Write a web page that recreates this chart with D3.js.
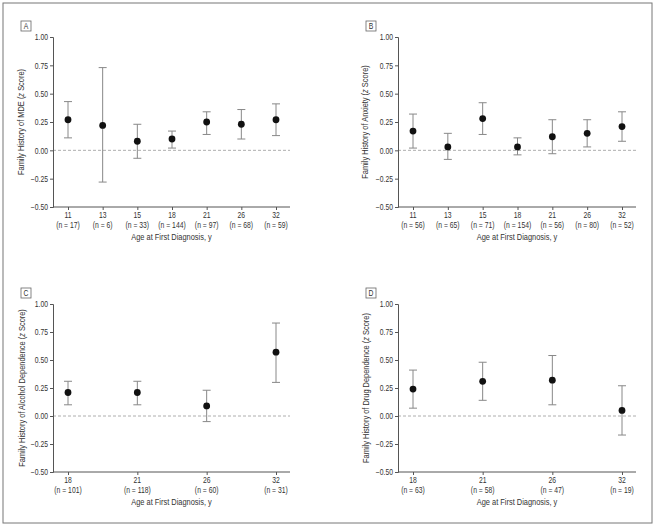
<!DOCTYPE html>
<html>
<head>
<meta charset="utf-8">
<script src="https://cdn.jsdelivr.net/npm/d3@7"></script>
<style>
  body { margin: 0; background: #fff; }
  svg text { font-family: "Liberation Sans", Arial, sans-serif; fill: #333; }
</style>
</head>
<body>
<div id="chart"></div>
<script>
// values: mean z score with lower / upper 95% CI
const agesA = ["11", "13", "15", "18", "21", "26", "32"];
const nA = [17, 6, 33, 144, 97, 68, 59];
const meanA = [0.27, 0.22, 0.08, 0.10, 0.25, 0.23, 0.27];
const lowA = [0.11, -0.28, -0.07, 0.02, 0.14, 0.10, 0.13];
const highA = [0.43, 0.73, 0.23, 0.17, 0.34, 0.36, 0.41];

const agesB = ["11", "13", "15", "18", "21", "26", "32"];
const nB = [56, 65, 71, 154, 56, 80, 52];
const meanB = [0.17, 0.03, 0.28, 0.03, 0.12, 0.15, 0.21];
const lowB = [0.02, -0.08, 0.14, -0.04, -0.03, 0.03, 0.08];
const highB = [0.32, 0.15, 0.42, 0.11, 0.27, 0.27, 0.34];

const agesC = ["18", "21", "26", "32"];
const nC = [101, 118, 60, 31];
const meanC = [0.21, 0.21, 0.09, 0.57];
const lowC = [0.10, 0.10, -0.05, 0.30];
const highC = [0.31, 0.31, 0.23, 0.83];

const agesD = ["18", "21", "26", "32"];
const nD = [63, 58, 47, 19];
const meanD = [0.24, 0.31, 0.32, 0.05];
const lowD = [0.07, 0.14, 0.10, -0.17];
const highD = [0.41, 0.48, 0.54, 0.27];

const yTicks = [-0.5, -0.25, 0, 0.25, 0.5, 0.75, 1.0];

const W = 656, H = 528;
const NARROW = 0.8; // horizontal squeeze to mimic the condensed journal font

const svg = d3.select("#chart").append("svg")
  .attr("width", W).attr("height", H);

// outer frame
svg.append("rect")
  .attr("x", 3).attr("y", 3).attr("width", 649).attr("height", 520)
  .attr("fill", "none").attr("stroke", "#777").attr("stroke-width", 1);

const panels = [
  { letter: "A", title: "Family History of MDE", ages: agesA, n: nA, mean: meanA, low: lowA, high: highA, x0: 53, x1: 290, y0: 37, y1: 207, titleX: 24 },
  { letter: "B", title: "Family History of Anxiety", ages: agesB, n: nB, mean: meanB, low: lowB, high: highB, x0: 398, x1: 636, y0: 37, y1: 207, titleX: 368 },
  { letter: "C", title: "Family History of Alcohol Dependence", ages: agesC, n: nC, mean: meanC, low: lowC, high: highC, x0: 53, x1: 290, y0: 304, y1: 472, titleX: 25 },
  { letter: "D", title: "Family History of Drug Dependence", ages: agesD, n: nD, mean: meanD, low: lowD, high: highD, x0: 398, x1: 636, y0: 304, y1: 472, titleX: 369 }
];

panels.forEach(p => drawPanel(p));

function label(g, x, y, txt, size) {
  return g.append("text")
    .attr("transform", "translate(" + x + "," + y + ") scale(" + NARROW + ",1)")
    .attr("text-anchor", "middle").style("font-size", size + "px")
    .text(txt);
}

function drawPanel(p) {
  const g = svg.append("g");

  const y = d3.scaleLinear().domain([-0.5, 1.0]).range([p.y1, p.y0]);
  const x = d3.scalePoint().domain(p.ages).range([p.x0 + 15, p.x1 - 14]);

  // zero reference line
  g.append("line")
    .attr("x1", p.x0).attr("x2", p.x1)
    .attr("y1", y(0)).attr("y2", y(0))
    .attr("stroke", "#999").attr("stroke-width", 0.8)
    .attr("stroke-dasharray", "3,2");

  // y axis
  const yAxis = g.append("g")
    .attr("transform", "translate(" + p.x0 + ",0)")
    .call(d3.axisLeft(y).tickValues(yTicks).tickSize(3).tickPadding(2)
      .tickFormat(d => d3.format(".2f")(d).replace("-", "\u2013")));
  yAxis.select(".domain").attr("stroke", "#555");
  yAxis.selectAll(".tick line").attr("stroke", "#555");
  yAxis.selectAll("text")
    .attr("x", -5 / NARROW)
    .attr("transform", "scale(" + NARROW + ",1)")
    .style("font-size", "8.5px").attr("fill", "#333");

  // x axis line (drawn across the whole panel width)
  g.append("line")
    .attr("x1", p.x0).attr("x2", p.x1)
    .attr("y1", p.y1).attr("y2", p.y1)
    .attr("stroke", "#555");

  const xAxis = g.append("g")
    .attr("transform", "translate(0," + p.y1 + ")")
    .call(d3.axisBottom(x).tickSize(3).tickFormat(""));
  xAxis.select(".domain").remove();
  xAxis.selectAll(".tick line").attr("stroke", "#555");

  // tick labels: age and n
  p.ages.forEach((a, i) => {
    label(g, x(a), p.y1 + 11, a, 8.5);
    label(g, x(a), p.y1 + 21, "(n = " + p.n[i] + ")", 8.5);
  });

  // x title
  label(g, (p.x0 + p.x1) / 2, p.y1 + 33, "Age at First Diagnosis, y", 9.3);

  // y title
  const yt = g.append("text")
    .attr("transform", "translate(" + p.titleX + "," + ((p.y0 + p.y1) / 2) + ") rotate(-90) scale(" + NARROW + ",1)")
    .attr("text-anchor", "middle").style("font-size", "9.3px");
  yt.append("tspan").text(p.title + " (");
  yt.append("tspan").style("font-style", "italic").text("z");
  yt.append("tspan").text(" Score)");

  // panel letter box
  const bx = p.x0 - 32, by = p.y0 - 16;
  g.append("rect")
    .attr("x", bx).attr("y", by).attr("width", 10).attr("height", 10)
    .attr("fill", "none").attr("stroke", "#666").attr("stroke-width", 0.8);
  label(g, bx + 5, by + 8.3, p.letter, 8.5);

  // error bars
  const rows = p.ages.map((a, i) => ({ age: a, mean: p.mean[i], low: p.low[i], high: p.high[i] }));
  const bars = g.selectAll(".err").data(rows).enter().append("g");
  bars.append("line")
    .attr("x1", d => x(d.age)).attr("x2", d => x(d.age))
    .attr("y1", d => y(d.low)).attr("y2", d => y(d.high))
    .attr("stroke", "#888").attr("stroke-width", 1);
  bars.append("line")
    .attr("x1", d => x(d.age) - 4).attr("x2", d => x(d.age) + 4)
    .attr("y1", d => y(d.high)).attr("y2", d => y(d.high))
    .attr("stroke", "#888").attr("stroke-width", 1);
  bars.append("line")
    .attr("x1", d => x(d.age) - 4).attr("x2", d => x(d.age) + 4)
    .attr("y1", d => y(d.low)).attr("y2", d => y(d.low))
    .attr("stroke", "#888").attr("stroke-width", 1);
  bars.append("circle")
    .attr("cx", d => x(d.age)).attr("cy", d => y(d.mean))
    .attr("r", 3.4).attr("fill", "#111");
}
</script>
</body>
</html>
